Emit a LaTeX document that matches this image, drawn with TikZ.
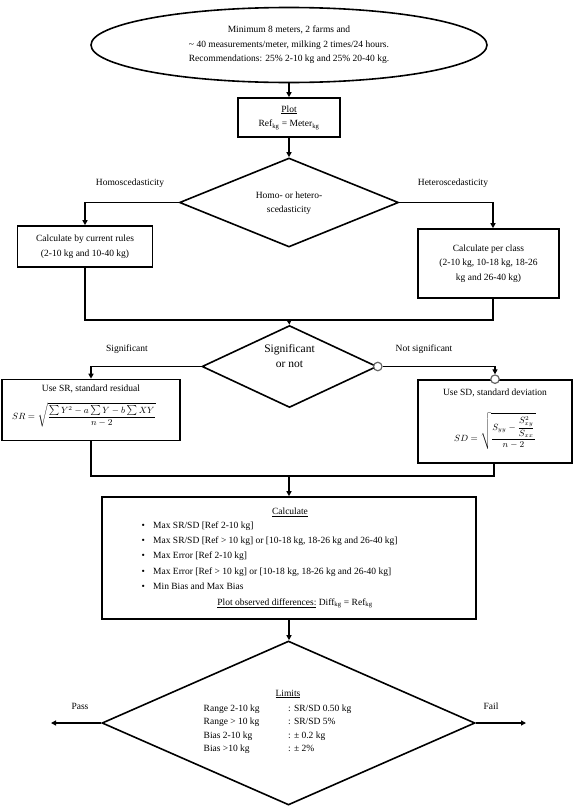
\documentclass[tikz,border=0pt]{standalone}
\usepackage{fontspec}
\setmainfont{Liberation Serif}
\usetikzlibrary{shapes.geometric,arrows.meta,calc}
\tikzset{
  box/.style={draw, line width=1.6pt, inner sep=0pt, align=center},
  conn/.style={line width=1.6pt},
  arr/.style={conn, -{Triangle[length=5pt,width=5pt]}},
  dia/.style={diamond, draw, line width=1.6pt, inner sep=0pt},
  ring/.style={circle, draw=black!60, fill=white, line width=1.2pt, minimum size=8.5pt, inner sep=0pt},
  txt/.style={inner sep=0pt, align=center},
}
\begin{document}
\begin{tikzpicture}[x=1pt,y=-1pt, font=\fontsize{9.5}{14.5}\selectfont]
\useasboundingbox (0,0) rectangle (575,806);
% top ellipse
\node[ellipse, draw, line width=1.6pt, minimum width=396pt, minimum height=75pt, inner sep=0pt, align=center] (E) at (289,45)
  {Minimum 8 meters, 2 farms and\\ \textasciitilde{} 40 measurements/meter, milking 2 times/24 hours.\\ Recommendations: 25\% 2-10 kg and 25\% 20-40 kg.};
% plot
\node[box, minimum width=102pt, minimum height=39pt] (P) at (289,117.5)
  {\underline{Plot}\\Ref\textsubscript{kg} = Meter\textsubscript{kg}};
% diamond 1
\node[dia, minimum width=219pt, minimum height=89pt] (D1) at (289,202.5) {};
\node[txt] (D1t) at (289,203) {Homo- or hetero-\\scedasticity};
\node[txt] (Lho) at (130,183) {Homoscedasticity};
\node[txt] (Lhe) at (453,183) {Heteroscedasticity};
% boxes row 1
\node[box, minimum width=135pt, minimum height=41pt] (B1) at (85,246.5)
  {Calculate by current rules\\(2-10 kg and 10-40 kg)};
\node[box, minimum width=141pt, minimum height=69pt] (B2) at (488.5,263.5)
  {Calculate per class\\(2-10 kg, 10-18 kg, 18-26\\kg and 26-40 kg)};
\coordinate (M1) at (289,320);
% diamond 2
\node[dia, minimum width=175pt, minimum height=82pt] (D2) at (289.5,366.5) {};
\node[txt, font=\fontsize{11.5}{14.5}\selectfont] (D2t) at (289.5,356) {Significant\\or not};
\node[txt] (Ls) at (127,349) {Significant};
\node[txt] (Lns) at (424,349) {Not significant};
% SR box
\node[box, minimum width=178pt, minimum height=61pt] (B3) at (91,410) {};
\node[txt] (B3a) at (91,388.5) {Use SR, standard residual};
\node[txt, font=\fontsize{9}{11}\selectfont] (B3f) at (84,415)
  {$\displaystyle SR=\sqrt{\frac{\sum Y^2-a\sum Y-b\sum XY}{n-2}}$};
% SD box
\node[box, minimum width=154pt, minimum height=83pt] (B4) at (495,421.5) {};
\node[txt] (B4a) at (495,393) {Use SD, standard deviation};
\node[txt, font=\fontsize{9}{11}\selectfont] (B4f) at (495,431)
  {$\displaystyle SD=\sqrt{\frac{S_{yy}-{\displaystyle\frac{S_{xy}^2}{S_{xx}}}}{n-2}}$};
\coordinate (M2) at (289,476);
% calculate box
\node[box, minimum width=374pt, minimum height=122pt] (C) at (289,558) {};
\node[txt] (Ct) at (290,512) {\underline{Calculate}};
\node[anchor=base west, inner sep=0pt, font=\fontsize{9.5}{15.2}\selectfont] (Cl) at (141.3,528.5)
  {\begin{tabular}[t]{@{}p{11.7pt}@{}l@{}}
  \textbullet & Max SR/SD [Ref 2-10 kg]\\
  \textbullet & Max SR/SD [Ref > 10 kg] or [10-18 kg, 18-26 kg and 26-40 kg]\\
  \textbullet & Max Error [Ref 2-10 kg]\\
  \textbullet & Max Error [Ref > 10 kg] or [10-18 kg, 18-26 kg and 26-40 kg]\\
  \textbullet & Min Bias and Max Bias
  \end{tabular}};
\node[txt] (Cp) at (295,603.5) {\underline{Plot observed differences:} Diff\textsubscript{kg} = Ref\textsubscript{kg}};
% diamond 3
\node[dia, minimum width=373pt, minimum height=164pt] (D3) at (288.5,723) {};
\node[txt] (Ll) at (288,694) {\underline{Limits}};
\node[anchor=base west, inner sep=0pt, font=\fontsize{9.5}{13.5}\selectfont] (Lt) at (203.5,711)
  {\begin{tabular}[t]{@{}p{84.5pt}@{}l@{}}
  Range 2-10 kg & : SR/SD 0.50 kg\\
  Range > 10 kg & : SR/SD 5\%\\
  Bias 2-10 kg & : \textpm{} 0.2 kg\\
  Bias >10 kg & : \textpm{} 2\%
  \end{tabular}};
\coordinate (PassE) at (51,723);
\coordinate (FailE) at (526,723);
\node[txt] (Lp) at (80,706) {Pass};
\node[txt] (Lf) at (491,706) {Fail};
% connectors
\draw[arr] (E.south) -- (P.north);
\draw[arr] (P.south) -- (D1.north);
\draw[arr] (D1.west) -| (B1.north);
\draw[arr] (D1.east) -| ([xshift=4.5pt]B2.north);
\draw[conn] (B1.south) |- (M1);
\draw[conn] ([xshift=4.5pt]B2.south) |- (M1);
\draw[arr] (M1) -- (D2.north);
\draw[arr] (D2.west) -| (B3.north);
\node[ring] (R1) at (D2.east) {};
\node[ring] (R2) at (B4.north) {};
\draw[arr] (R1.east) -| (R2.north);
\draw[conn] (B3.south) |- (M2);
\draw[conn] ([xshift=-1pt]B4.south) |- (M2);
\draw[arr] (M2) -- (C.north);
\draw[arr] (C.south) -- (C.south |- D3.north);
\draw[arr] (D3.west) -- (PassE);
\draw[arr] (D3.east) -- (FailE);
\end{tikzpicture}
\end{document}
